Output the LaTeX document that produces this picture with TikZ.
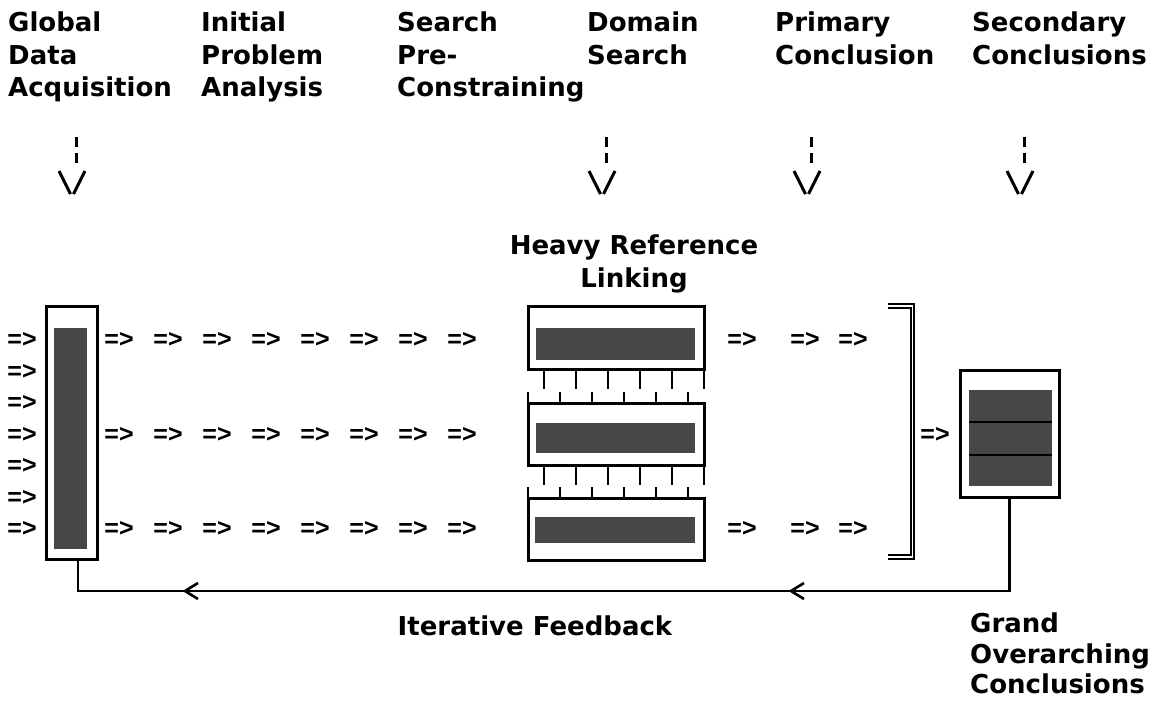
\documentclass[tikz,border=0pt]{standalone}
\usepackage{fontspec}
\setmainfont{DejaVu Sans}
\newfontfamily\arrfont{Liberation Sans}
\usetikzlibrary{calc}
\tikzset{
  lbl/.style={font=\bfseries\fontsize{26}{32.5}\selectfont, align=left, anchor=north west, inner sep=0pt},
  frame/.style={draw, line width=3pt, fill=white, inner sep=0pt, outer sep=0pt},
  shadebox/.style={fill=black!72, draw=none, inner sep=0pt, outer sep=0pt},
  arr/.style={font=\arrfont\bfseries\fontsize{25}{25}\selectfont, inner sep=0pt},
  tooth/.style={line width=2.6pt},
  fb/.style={line width=2.6pt},
  downv/.pic={
    \draw[line width=3pt] (4,137)--(4,147) (4,153)--(4,163);
    \draw[line width=3pt] (-13,171)--(-1.5,194) (1.5,194)--(13,171);
  }
}
\begin{document}
\begin{tikzpicture}[x=1pt,y=-1pt]
\fill[white] (0,0) rectangle (1160,701);
\useasboundingbox (0,0) rectangle (1160,701);

% top labels
\node[lbl] (gda) at (8,12) {Global\\Data\\Acquisition};
\node[lbl] (ipa) at (201,12) {Initial\\Problem\\Analysis};
\node[lbl] (spc) at (397,12) {Search\\Pre-\\Constraining};
\node[lbl] (dsr) at (587,12) {Domain\\Search};
\node[lbl] (pco) at (775,12) {Primary\\Conclusion};
\node[lbl] (sco) at (972,12) {Secondary\\Conclusions};

% down arrows
\pic (dv1) at (72,0) {downv};
\pic (dv2) at (602,0) {downv};
\pic (dv3) at (807,0) {downv};
\pic (dv4) at (1020,0) {downv};

\node[lbl, align=center, anchor=north] (hrl) at (634,235) {Heavy Reference\\Linking};

% left column
\node[frame, minimum width=51pt, minimum height=253pt] (col) at (71.5,432.5) {};
\node[shadebox, minimum width=33pt, minimum height=221pt] (colf) at (70.5,438.5) {};

% centre stack
\node[frame, minimum width=176pt, minimum height=63pt] (b1) at (616,337.5) {};
\node[shadebox, minimum width=159pt, minimum height=32pt] (b1f) at (615.5,344) {};
\node[frame, minimum width=176pt, minimum height=62pt] (b2) at (616,434) {};
\node[shadebox, minimum width=159pt, minimum height=30pt] (b2f) at (615.5,438) {};
\node[frame, minimum width=176pt, minimum height=62pt] (b3) at (616,529) {};
\node[shadebox, minimum width=160pt, minimum height=26pt] (b3f) at (615,530) {};

\foreach \k in {0,...,5} {
  \draw[tooth] ($(b1.south west)+({16+32*\k},0)$) -- ++(0,20);
  \draw[tooth] ($(b2.north west)+({32*\k},0)$) -- ++(0,-11);
  \draw[tooth] ($(b2.south west)+({16+32*\k},0)$) -- ++(0,20);
  \draw[tooth] ($(b3.north west)+({32*\k},0)$) -- ++(0,-11);
}

% right box
\node[frame, minimum width=99pt, minimum height=127pt] (rb) at (1009.5,433.5) {};
\node[shadebox, minimum width=83pt, minimum height=96pt] (rbf) at (1010.5,438) {};
\draw[black, line width=1.4pt] ($(rbf.north west)+(0,32)$) -- ($(rbf.north east)+(0,32)$);
\draw[black, line width=1.4pt] ($(rbf.north west)+(0,65)$) -- ($(rbf.north east)+(0,65)$);

% bracket
\coordinate (brt) at (888,306);
\coordinate (brb) at (888,557);
\draw[double, double distance=1.8pt, line width=1.8pt] (brt) -| (912.5,557) -- (brb);

% arrows text
\foreach \k in {0,...,6} \node[arr] (in\k) at (22,{340+31.5*\k}) {=>};
\foreach \r/\yy in {a/340, b/435, c/529}
  \foreach \k in {0,...,7} \node[arr] (row\r\k) at ({119+49*\k},\yy) {=>};
\foreach \r/\yy in {a/340, c/529}
  \foreach \xx [count=\k] in {742,805,853} \node[arr] (out\r\k) at (\xx,\yy) {=>};
\node[arr] (tobox) at (935,435) {=>};

% feedback
\coordinate (fbc) at (78,591);
\coordinate (tipa) at (791,591);
\coordinate (tipb) at (185,591);
\draw[fb] (rb.south) |- (fbc) -- (col.south -| fbc);
\draw[fb, line join=miter] ($(tipa)+(13,-8)$) -- (tipa) -- ($(tipa)+(13,8)$);
\draw[fb, line join=miter] ($(tipb)+(13,-8)$) -- (tipb) -- ($(tipb)+(13,8)$);

\node[lbl, anchor=base] (itf) at (535,635) {Iterative Feedback};
\node[lbl, font=\bfseries\fontsize{26}{30.5}\selectfont] (goc) at (970,613) {Grand\\Overarching\\Conclusions};
\end{tikzpicture}
\end{document}
